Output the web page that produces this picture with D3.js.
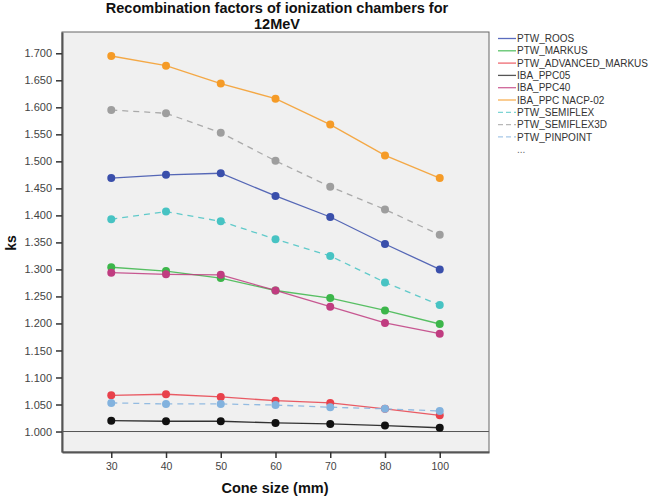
<!DOCTYPE html>
<html><head><meta charset="utf-8">
<script src="https://cdn.jsdelivr.net/npm/d3@7"></script>
<style>body{margin:0;background:#fff}svg{display:block;font-family:"Liberation Sans",Arial,sans-serif}</style>
</head><body><svg id="c" width="652" height="497"></svg>
<script>
const categories = [30, 40, 50, 60, 70, 80, 100];
const yTicks = [1.0, 1.05, 1.1, 1.15, 1.2, 1.25, 1.3, 1.35, 1.4, 1.45, 1.5, 1.55, 1.6, 1.65, 1.7];
const seriesNames = ["PTW_ROOS","PTW_MARKUS","PTW_ADVANCED_MARKUS","IBA_PPC05","IBA_PPC40","IBA_PPC NACP-02","PTW_SEMIFLEX","PTW_SEMIFLEX3D","PTW_PINPOINT"];
const ptwRoos       = [1.469, 1.475, 1.478, 1.436, 1.397, 1.347, 1.300];
const ptwMarkus     = [1.304, 1.297, 1.284, 1.261, 1.247, 1.224, 1.199];
const ptwAdvMarkus  = [1.067, 1.069, 1.064, 1.057, 1.053, 1.042, 1.030];
const ibaPpc05      = [1.020, 1.019, 1.019, 1.016, 1.014, 1.011, 1.007];
const ibaPpc40      = [1.294, 1.291, 1.290, 1.261, 1.231, 1.201, 1.181];
const ibaNacp02     = [1.695, 1.677, 1.644, 1.616, 1.568, 1.511, 1.469];
const ptwSemiflex   = [1.393, 1.407, 1.389, 1.356, 1.325, 1.276, 1.234];
const ptwSemiflex3d = [1.595, 1.589, 1.553, 1.501, 1.453, 1.411, 1.364];
const ptwPinpoint   = [1.053, 1.051, 1.051, 1.049, 1.045, 1.042, 1.038];
const seriesValues = [ptwRoos, ptwMarkus, ptwAdvMarkus, ibaPpc05, ibaPpc40, ibaNacp02, ptwSemiflex, ptwSemiflex3d, ptwPinpoint];
const colors = ["#3a4fab","#3cb64a","#e8414b","#111111","#c03c80","#f59b27","#47c3c3","#9e9e9e","#82b2de"];
const legendColors = ["#5a6cbe","#5cc36a","#ee6a72","#555555","#cf6699","#f7b055","#7dd4d4","#b8b8b8","#a6c8e8"];
const dashed = [false,false,false,false,false,false,true,true,true];

const svg = d3.select("#c");
const L = 62, R = 489, T = 32, B = 452;
const x = d3.scalePoint().domain(categories).range([L, R]).padding(0.9);
const y = d3.scaleLinear().domain([0.9621, 1.7394]).range([B, T]);

svg.append("rect").attr("x", L).attr("y", T).attr("width", R - L).attr("height", B - T).attr("fill", "#f0f0f0");

svg.append("line").attr("x1", L).attr("x2", R).attr("y1", y(1)).attr("y2", y(1)).attr("stroke", "#555").attr("stroke-width", 1);

svg.append("rect").attr("x", L).attr("y", T).attr("width", R - L).attr("height", B - T).attr("fill", "none").attr("stroke", "#666").attr("stroke-width", 1);

const yAxis = d3.axisLeft(y).tickValues(yTicks).tickFormat(d3.format(".3f")).tickSizeInner(6).tickSizeOuter(0).tickPadding(4);
const gy = svg.append("g").attr("transform", `translate(${L},0)`).call(yAxis);
gy.select(".domain").attr("stroke", "#555").attr("stroke-width", 2);
gy.selectAll(".tick line").attr("stroke", "#333").attr("stroke-width", 1.5);
gy.selectAll(".tick text").attr("fill", "#444").attr("font-size", 11).attr("font-family", "Liberation Sans, Arial, sans-serif");

const xAxis = d3.axisBottom(x).tickSizeInner(6).tickSizeOuter(0).tickPadding(5);
const gx = svg.append("g").attr("transform", `translate(0,${B})`).call(xAxis);
gx.select(".domain").attr("stroke", "#555").attr("stroke-width", 2);
gx.selectAll(".tick line").attr("stroke", "#333").attr("stroke-width", 1.5);
gx.selectAll(".tick text").attr("fill", "#444").attr("font-size", 10.5).attr("font-family", "Liberation Sans, Arial, sans-serif");

const line = d3.line().x((d, i) => x(categories[i])).y(d => y(d));
seriesValues.forEach((vals, s) => {
  svg.append("path").datum(vals).attr("d", line).attr("fill", "none")
    .attr("stroke", colors[s]).attr("stroke-opacity", 0.85).attr("stroke-width", 1.3)
    .attr("stroke-dasharray", dashed[s] ? "6,5" : null);
});
seriesValues.forEach((vals, s) => {
  svg.append("g").selectAll("circle").data(vals).join("circle")
    .attr("cx", (d, i) => x(categories[i])).attr("cy", d => y(d)).attr("r", 4)
    .attr("fill", colors[s]);
});

svg.append("text").attr("x", 277).attr("y", 13).attr("text-anchor", "middle").attr("font-size", 14.5).attr("font-weight", "bold").attr("fill", "#111").text("Recombination factors of ionization chambers for");
svg.append("text").attr("x", 277).attr("y", 29.4).attr("text-anchor", "middle").attr("font-size", 14.5).attr("font-weight", "bold").attr("fill", "#111").text("12MeV");

svg.append("text").attr("x", 275).attr("y", 493).attr("text-anchor", "middle").attr("font-size", 14.5).attr("font-weight", "bold").attr("fill", "#111").text("Cone size (mm)");
svg.append("text").attr("transform", "translate(16,243) rotate(-90)").attr("text-anchor", "middle").attr("font-size", 14).attr("font-weight", "bold").attr("fill", "#111").text("ks");

const lg = svg.append("g");
seriesNames.forEach((name, s) => {
  const yy = 38.5 + s * 12.3;
  lg.append("line").attr("x1", 498).attr("x2", 516).attr("y1", yy).attr("y2", yy)
    .attr("stroke", legendColors[s]).attr("stroke-width", 1.3)
    .attr("stroke-dasharray", dashed[s] ? "5,3" : null);
  lg.append("text").attr("x", 517).attr("y", yy + 3.6).attr("font-size", 10).attr("fill", "#333").text(name);
});
lg.append("text").attr("x", 517).attr("y", 38.5 + 9 * 12.3 + 3.6).attr("font-size", 10).attr("fill", "#666").text("...");
</script></body></html>
